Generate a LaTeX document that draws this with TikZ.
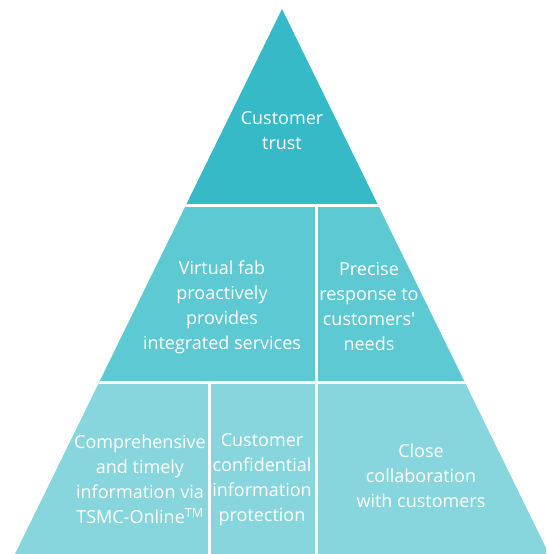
\documentclass[tikz,border=0pt]{standalone}
\usepackage{fontspec}
\setmainfont{Open Sans}
\usepackage{xcolor}
\usepackage{tikz}
\usetikzlibrary{positioning}

\definecolor{tiertop}{HTML}{37BAC8}
\definecolor{tiermid}{HTML}{5DC9D3}
\definecolor{tierbot}{HTML}{88D6DD}

\begin{document}
\begin{tikzpicture}[x=1pt, y=-1pt,
  tiertext/.style={text=white, align=center, font=\fontsize{18}{25}\selectfont, inner sep=0pt},
  gap/.style={white, line width=2.6pt}]
\useasboundingbox (0,0) rectangle (546,554);
% pyramid outline
\coordinate (apex) at (282,9);
\coordinate (baseL) at (15,554);
\coordinate (baseR) at (549,554);
\begin{scope}
  \clip (apex) -- (baseL) -- (baseR) -- cycle;
  \fill[tiertop] (0,0) rectangle (546,205.6);
  \fill[tiermid] (0,205.6) rectangle (546,382.4);
  \fill[tierbot] (0,382.4) rectangle (546,554);
  % white gaps between the tiers
  \draw[gap] (0,205.6) -- (546,205.6);
  \draw[gap] (0,382.4) -- (546,382.4);
  \draw[gap] (316.3,205.6) -- (316.3,554);
  \draw[gap] (209.4,382.4) -- (209.4,554);
\end{scope}
% labels
\node[tiertext] (trust) at (282,130.5) {Customer\\trust};
\node[tiertext] (virtualfab) at (222,307) {Virtual fab\\proactively\\provides\\integrated services};
\node[tiertext] (precise) at (369,306) {Precise\\response to\\customers\textquotesingle\\needs};
\node[tiertext] (online) at (140,479.5) {Comprehensive\\and timely\\information via\\TSMC-Online\textsuperscript{TM}};
\node[tiertext] (confidential) at (262,480) {Customer\\confidential\\information\\protection};
\node[tiertext] (collab) at (421,476) {Close\\collaboration\\with customers};
\end{tikzpicture}
\end{document}
